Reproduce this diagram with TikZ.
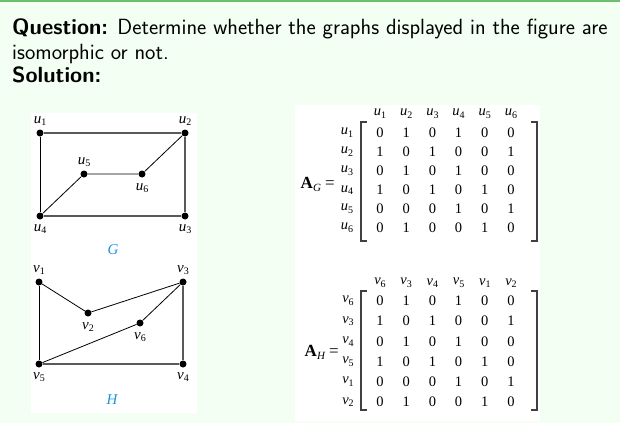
\documentclass[tikz,border=0pt]{standalone}
\usepackage{fontspec}
\newfontfamily\tms{Liberation Serif}
\definecolor{bgc}{RGB}{242,255,242}
\definecolor{topc}{RGB}{110,190,110}
\definecolor{lblue}{RGB}{30,150,225}
\newcommand{\lab}[2]{{\tms\itshape #1}\raisebox{-0.4ex}{\tms\fontsize{10}{10}\selectfont #2}}
\tikzset{
  vtx/.style={circle,fill=black,inner sep=0pt,minimum size=7pt},
  vlab/.style={inner sep=0pt,font=\tms\fontsize{15}{15}\selectfont},
  outer/.style={draw=black!65,line width=1.6pt},
  inner/.style={draw=black,line width=0.8pt},
  ent/.style={inner sep=0pt,font=\tms\fontsize{14.5}{14.5}\selectfont},
  brk/.style={draw=black!75,line width=1.1pt},
  qtext/.style={anchor=base west,inner sep=0pt,font=\sffamily\fontsize{22}{22}\selectfont}
}
\begin{document}
\begin{tikzpicture}[x=1pt,y=-1pt]
\useasboundingbox (0,0) rectangle (620,423);
\fill[bgc] (0,0) rectangle (620,423);
\fill[topc] (0,0) rectangle (620,2);
\fill[white] (31,113) rectangle (197,413);
\fill[white] (295,105) rectangle (540,421);
% text
\node[qtext] (q1) at (12,34) {\textbf{Question:} Determine whether the graphs displayed in the figure are};
\node[qtext] (q2) at (12,59) {isomorphic or not.};
\node[qtext] (q3) at (12,82) {\textbf{Solution:}};
% graph G
\node[vtx] (u1) at (40,133) {};
\node[vtx] (u2) at (185,133) {};
\node[vtx] (u3) at (185,216) {};
\node[vtx] (u4) at (40,216) {};
\node[vtx] (u5) at (84,174) {};
\node[vtx] (u6) at (142,174) {};
\draw[outer] (u1) -- (u2) -- (u3) -- (u4);
\draw[inner] (u1) -- (u4);
\draw[inner] (u4) -- (u5) -- (u6) -- (u2);
\node[vlab] (lu1) at (40,121) {\lab{u}{1}};
\node[vlab] (lu2) at (185,121) {\lab{u}{2}};
\node[vlab] (lu3) at (185,229) {\lab{u}{3}};
\node[vlab] (lu4) at (40,229) {\lab{u}{4}};
\node[vlab] (lu5) at (84,162) {\lab{u}{5}};
\node[vlab] (lu6) at (142,188) {\lab{u}{6}};
\node[vlab,text=lblue] (lG) at (113,250) {\itshape G};
% graph H
\node[vtx] (v1) at (39,282) {};
\node[vtx] (v3) at (183,282) {};
\node[vtx] (v2) at (88,313) {};
\node[vtx] (v6) at (140,323) {};
\node[vtx] (v5) at (39,364) {};
\node[vtx] (v4) at (183,364) {};
\draw[outer] (v5) -- (v4) -- (v3);
\draw[inner] (v1) -- (v5);
\draw[inner] (v1) -- (v2) -- (v3) -- (v6) -- (v5);
\node[vlab] (lv1) at (39,270) {\lab{v}{1}};
\node[vlab] (lv3) at (183,270) {\lab{v}{3}};
\node[vlab] (lv2) at (88,327) {\lab{v}{2}};
\node[vlab] (lv6) at (140,337) {\lab{v}{6}};
\node[vlab] (lv5) at (39,377) {\lab{v}{5}};
\node[vlab] (lv4) at (183,377) {\lab{v}{4}};
\node[vlab,text=lblue] (lH) at (112,400) {\itshape H};
% matrix A_G
\node[ent,anchor=east,font=\tms\fontsize{17}{17}\selectfont] (AG) at (335,184) {\textbf{A}\raisebox{-0.4ex}{\fontsize{11}{11}\selectfont\itshape G} =};
\foreach \c [count=\i] in {1,2,3,4,5,6}
  \node[ent] (gc\i) at ({380+26.2*(\i-1)},114) {\lab{u}{\c}};
\foreach \c [count=\i] in {1,2,3,4,5,6}
  \node[ent] (gr\i) at (347,{133+19*(\i-1)}) {\lab{u}{\c}};
\foreach \row [count=\r] in {{0,1,0,1,0,0},{1,0,1,0,0,1},{0,1,0,1,0,0},{1,0,1,0,1,0},{0,0,0,1,0,1},{0,1,0,0,1,0}}
  \foreach \v [count=\c] in \row
    \node[ent] (g\r\c) at ({380+26.2*(\c-1)},{133+19*(\r-1)}) {\v};
\draw[brk] (367,122) -- (361,122) -- (361,241) -- (367,241);
\draw[brk] (531,122) -- (537,122) -- (537,241) -- (531,241);
% matrix A_H
\node[ent,anchor=east,font=\tms\fontsize{17}{17}\selectfont] (AH) at (339,352) {\textbf{A}\raisebox{-0.4ex}{\fontsize{11}{11}\selectfont\itshape H} =};
\foreach \c [count=\i] in {6,3,4,5,1,2}
  \node[ent] (hc\i) at ({380+26.2*(\i-1)},283) {\lab{v}{\c}};
\foreach \c [count=\i] in {6,3,4,5,1,2}
  \node[ent] (hr\i) at (348,{301+20.2*(\i-1)}) {\lab{v}{\c}};
\foreach \row [count=\r] in {{0,1,0,1,0,0},{1,0,1,0,0,1},{0,1,0,1,0,0},{1,0,1,0,1,0},{0,0,0,1,0,1},{0,1,0,0,1,0}}
  \foreach \v [count=\c] in \row
    \node[ent] (h\r\c) at ({380+26.2*(\c-1)},{301+20.2*(\r-1)}) {\v};
\draw[brk] (367,291) -- (361,291) -- (361,410) -- (367,410);
\draw[brk] (531,291) -- (537,291) -- (537,410) -- (531,410);
\end{tikzpicture}
\end{document}
